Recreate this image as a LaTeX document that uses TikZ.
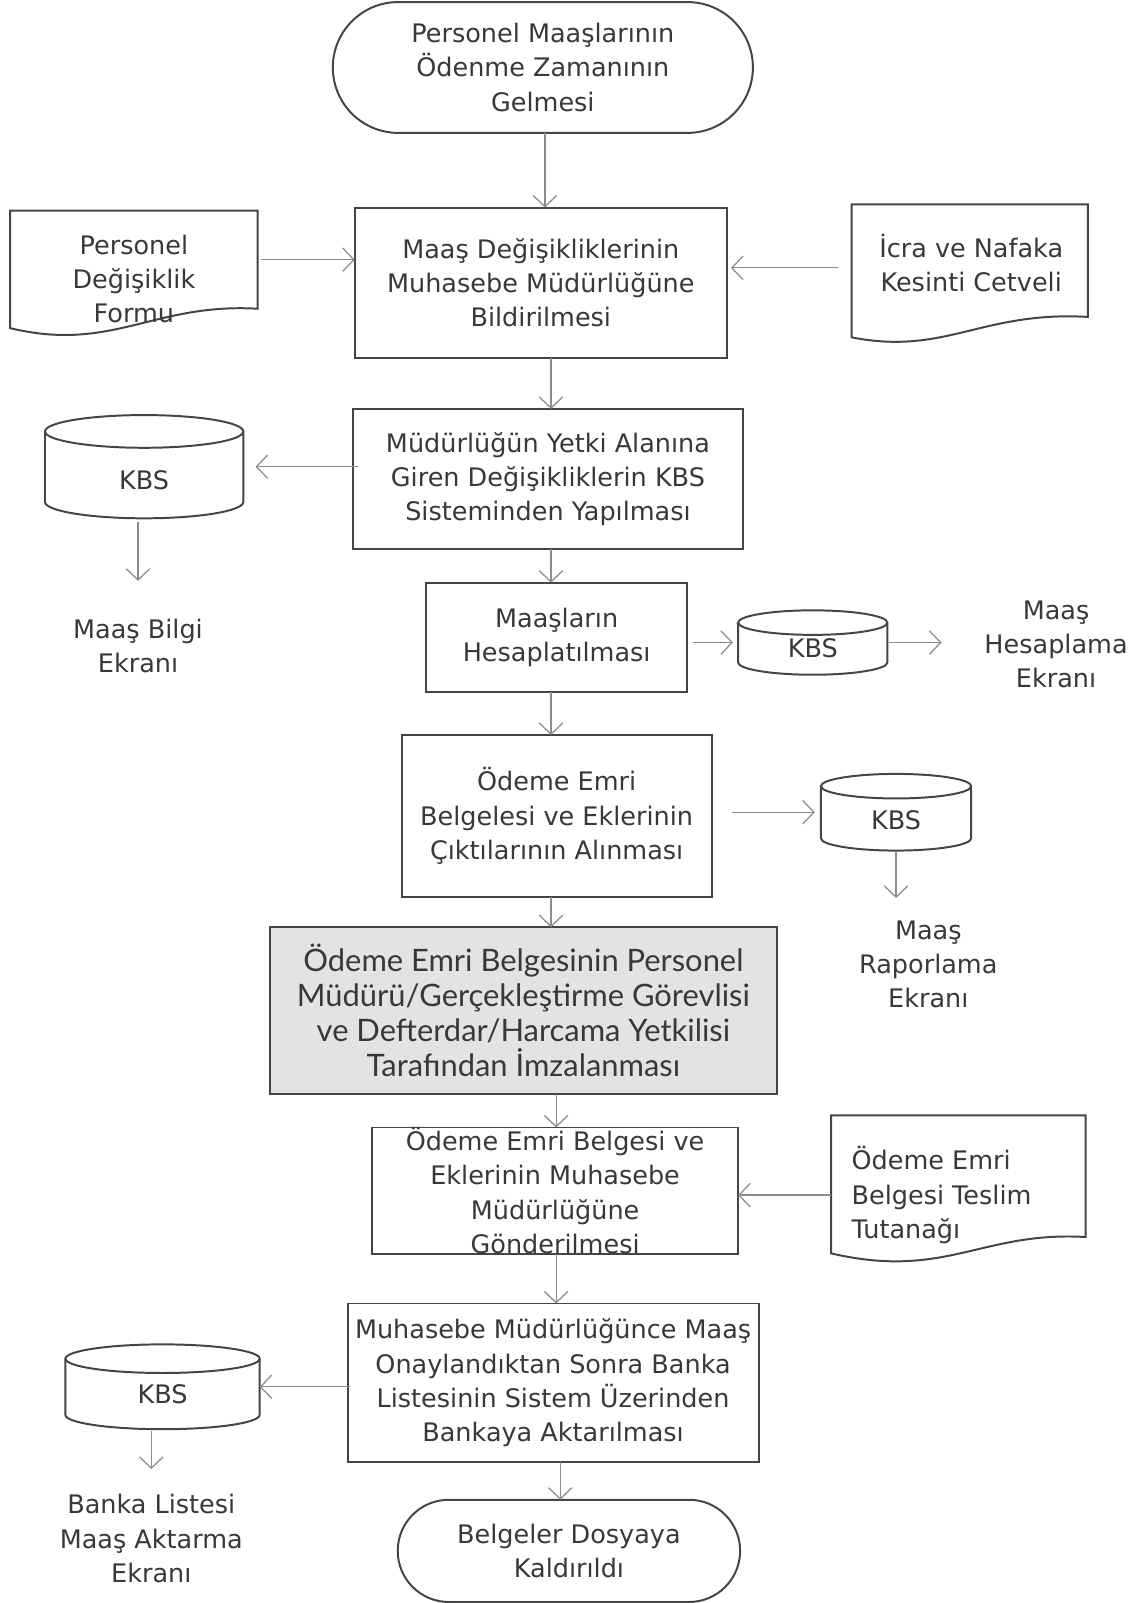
\documentclass[tikz,border=0pt]{standalone}
\usepackage{fontspec}
\setmainfont{DejaVu Sans}
\newfontfamily\gillfont{Lato}
\usetikzlibrary{arrows.meta,shapes.misc,calc}
\definecolor{boxc}{HTML}{444444}
\definecolor{arrc}{HTML}{8C8C8C}
\definecolor{txtc}{HTML}{383838}
\definecolor{grayfill}{HTML}{E3E3E3}
\newcommand\kbscyl[3]{%
  \draw[shapeline] ([yshift=-#3]#1.north west) -- ([yshift=#3]#1.south west)
     arc[start angle=180,end angle=360,x radius=#2,y radius=#3]
     -- ([yshift=-#3]#1.north east)
     arc[start angle=0,end angle=180,x radius=#2,y radius=#3] -- cycle;
  \draw[shapeline] ([yshift=-#3]#1.north west) arc[start angle=180,end angle=360,x radius=#2,y radius=#3];
}
\begin{document}
\begin{tikzpicture}[x=0.02cm,y=-0.02cm,
  every node/.style={inner sep=0pt, outer sep=0pt, text=txtc},
  main/.style={font=\fontsize{14.2}{19}\selectfont, align=center},
  proc/.style={main, draw=boxc, line width=1.1pt, rectangle},
  term/.style={main, draw=boxc, line width=1.1pt, rounded rectangle},
  shapeline/.style={draw=boxc, line width=1.1pt},
  geom/.style={rectangle},
  arr/.style={draw=arrc, line width=0.7pt, -{Straight Barb[length=2.2mm,width=4.6mm,line width=0.7pt]}},
]
\useasboundingbox (0,0) rectangle (1114,1568);

% axis coordinates
\coordinate (a1) at (533,0);
\coordinate (a2) at (539,0);
\coordinate (a3) at (544,0);
\coordinate (a4) at (548,0);

% process nodes
\node[term, minimum width=8.22cm, minimum height=2.56cm] (start) at (531,66) {Personel Maaşlarının\\Ödenme Zamanının\\Gelmesi};
\node[proc, minimum width=7.28cm, minimum height=2.94cm] (b2) at (529,276.5) {Maaş Değişikliklerinin\\Muhasebe Müdürlüğüne\\Bildirilmesi};
\node[proc, minimum width=7.64cm, minimum height=2.74cm] (b3) at (536,468.5) {Müdürlüğün Yetki Alanına\\Giren Değişikliklerin KBS\\Sisteminden Yapılması};
\node[proc, minimum width=5.10cm, minimum height=2.14cm] (b4) at (544.5,623.5) {Maaşların\\Hesaplatılması};
\node[proc, minimum width=6.06cm, minimum height=3.16cm] (b5) at (544.5,798) {Ödeme Emri\\Belgelesi ve Eklerinin\\Çıktılarının Alınması};
\node[proc, fill=grayfill, minimum width=9.92cm, minimum height=3.26cm, font=\gillfont\fontsize{17.2}{19.4}\selectfont] (b6) at (512,988.5) {Ödeme Emri Belgesinin Personel\\Müdürü/Gerçekleştirme Görevlisi\\ve Defterdar/Harcama Yetkilisi\\Tarafından İmzalanması};
\node[proc, minimum width=7.16cm, minimum height=2.46cm] (b7) at (543,1164.5) {Ödeme Emri Belgesi ve\\Eklerinin Muhasebe\\Müdürlüğüne\\Gönderilmesi};
\node[proc, minimum width=8.04cm, minimum height=3.10cm] (b8) at (541,1352.5) {Muhasebe Müdürlüğünce Maaş\\Onaylandıktan Sonra Banka\\Listesinin Sistem Üzerinden\\Bankaya Aktarılması};
\node[term, minimum width=6.70cm, minimum height=2.0cm] (end) at (556.5,1517) {Belgeler Dosyaya\\Kaldırıldı};

% documents
\node[geom, minimum width=4.84cm, minimum height=1.92cm] (d1) at (131,254) {};
\draw[shapeline] (10,206) -- (252,206) -- (252,302) .. controls (150,296) and (110,345) .. (10,321) -- cycle;
\node[main] (d1t) at (131,273) {Personel\\Değişiklik\\Formu};

\node[geom, minimum width=4.62cm, minimum height=2.48cm] (d2) at (948.5,262) {};
\draw[shapeline] (833,200) -- (1064,200) -- (1064,310) .. controls (960,304) and (925,348) .. (833,330) -- cycle;
\node[main] (d2t) at (950,257) {İcra ve Nafaka\\Kesinti Cetveli};

\node[geom, minimum width=4.98cm, minimum height=3.12cm] (d3) at (937.5,1169) {};
\draw[shapeline] (813,1091) -- (1062,1091) -- (1062,1210) .. controls (960,1204) and (925,1252) .. (813,1226) -- cycle;
\node[main, align=left, anchor=west] (d3t) at (833,1169) {Ödeme Emri\\Belgesi Teslim\\Tutanağı};

% cylinders
\node[geom, minimum width=3.88cm, minimum height=2.02cm] (c1) at (141,456.5) {};
\kbscyl{c1}{1.94cm}{0.32cm}
\node[main] (c1t) at (141,470) {KBS};
\node[geom, minimum width=2.92cm, minimum height=1.26cm] (c2) at (795,628.5) {};
\kbscyl{c2}{1.46cm}{0.24cm}
\node[main] (c2t) at (795,634) {KBS};
\node[geom, minimum width=2.94cm, minimum height=1.5cm] (c3) at (876.5,794.5) {};
\kbscyl{c3}{1.47cm}{0.24cm}
\node[main] (c3t) at (876.5,802) {KBS};
\node[geom, minimum width=3.8cm, minimum height=1.66cm] (c4) at (159,1356.5) {};
\kbscyl{c4}{1.9cm}{0.28cm}
\node[main] (c4t) at (159,1364) {KBS};

% free labels
\node[main] (t1) at (135,631.5) {Maaş Bilgi\\Ekranı};
\node[main] (t2) at (1033,630) {Maaş\\Hesaplama\\Ekranı};
\node[main] (t3) at (908,943) {Maaş\\Raporlama\\Ekranı};
\node[main] (t4) at (148,1505) {Banka Listesi\\Maaş Aktarma\\Ekranı};

% connectors
\draw[arr] (start.south -| a1) -- (b2.north -| a1);
\draw[arr, shorten <=0.06cm] (d1.east) -- (b2.west |- d1.east);
\draw[arr, shorten <=0.26cm, shorten >=0.08cm] (d2.west) -- (b2.east |- d2.west);
\draw[arr] (b2.south -| a2) -- (b3.north -| a2);
\draw[arr, shorten <=-0.1cm, shorten >=0.24cm] (b3.west |- c1.east) -- (c1.east);
\draw[arr, shorten <=0.08cm, shorten >=0.74cm] (c1.south -| t1.north) -- (t1.north);
\draw[arr] (b3.south -| a2) -- (b4.north -| a2);
\draw[arr, shorten <=0.12cm, shorten >=0.1cm] (b4.east |- c2.west) -- (c2.west);
\draw[arr, shorten <=0.04cm, shorten >=0.84cm] (c2.east) -- (t2.west |- c2.east);
\draw[arr] (b4.south -| a2) -- (b5.north -| a2);
\draw[arr, shorten <=0.4cm, shorten >=0.12cm] (b5.east |- c3.west) -- (c3.west);
\draw[arr, shorten >=0.44cm] (c3.south) -- (c3.south |- t3.north);
\draw[arr] (b5.south -| a2) -- (b6.north -| a2);
\draw[arr] (b6.south -| a3) -- (b7.north -| a3);
\draw[arr] (d3.west) -- (b7.east |- d3.west);
\draw[arr] (b7.south -| a3) -- (b8.north -| a3);
\draw[arr, shorten <=-0.04cm] (b8.west |- c4.east) -- (c4.east);
\draw[arr, shorten <=0.04cm, shorten >=0.5cm] (c4.south -| t4.north) -- (t4.north);
\draw[arr] (b8.south -| a4) -- (end.north -| a4);
\end{tikzpicture}
\end{document}
